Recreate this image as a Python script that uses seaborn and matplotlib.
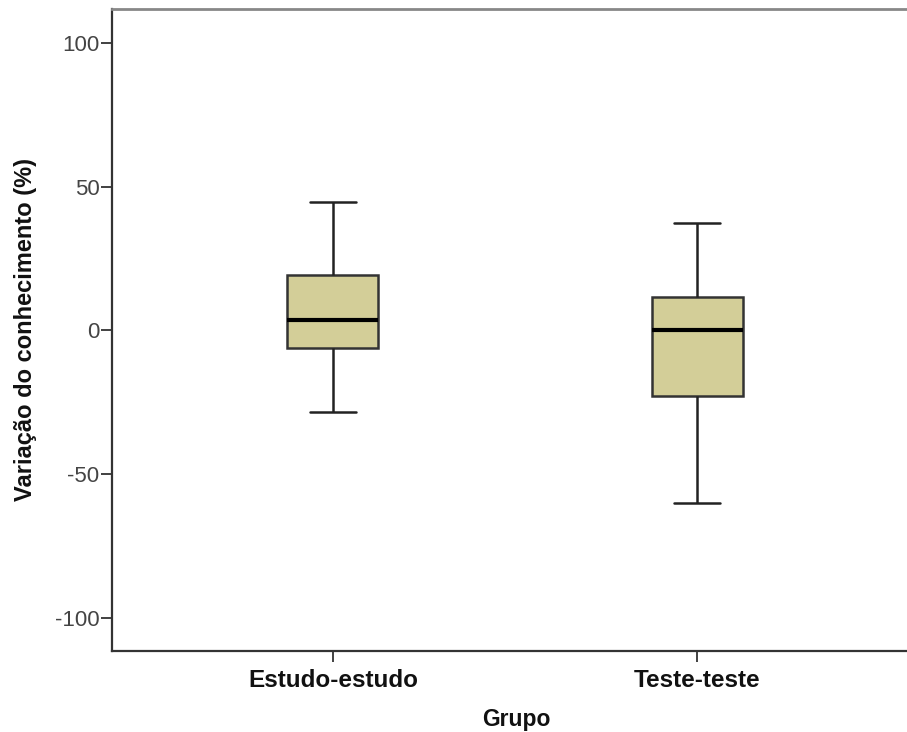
import pandas as pd
import matplotlib.pyplot as plt
import seaborn as sns

# Five-number summaries (lower whisker, Q1, median, Q3, upper whisker)
groups = ["Estudo-estudo", "Teste-teste"]
estudo_vals = [-28.5, -6.2, 3.8, 19.4, 44.8]
teste_vals = [-60.0, -22.9, 0.0, 11.5, 37.5]

df = pd.DataFrame({
    "Grupo": [groups[0]] * len(estudo_vals) + [groups[1]] * len(teste_vals),
    "Variacao": estudo_vals + teste_vals,
})

sns.set_theme(style="white")
plt.rcParams["font.family"] = ["Liberation Sans", "DejaVu Sans"]
plt.rcParams["axes.unicode_minus"] = False

fig = plt.figure(figsize=(9.07, 7.32), dpi=100)
# axes runs a little past the right edge of the picture, like the original export
ax = fig.add_axes([0.1235, 0.111, 0.891, 0.877])

sns.boxplot(data=df, x="Grupo", y="Variacao", order=groups, ax=ax,
            color="#d3ce98", width=0.25, whis=3, linewidth=1.8, saturation=1,
            boxprops=dict(edgecolor="#333333"),
            whiskerprops=dict(color="#222222"),
            capprops=dict(color="#222222"),
            medianprops=dict(color="black", linewidth=3))

ax.set_xlim(-0.607, 1.613)
ax.set_ylim(-111.5, 112)
ax.set_yticks([-100, -50, 0, 50, 100])

ax.set_xlabel("Grupo", fontsize=16.5, fontweight="bold", labelpad=12, color="#111111")
ax.set_ylabel("Variação do conhecimento (%)", fontsize=17, fontweight="bold", labelpad=13, color="#111111")

ax.tick_params(axis="y", left=True, length=8, width=1.3, pad=1, labelsize=16,
               labelcolor="#444444", color="#333333")
ax.tick_params(axis="x", bottom=True, length=8, width=1.3, pad=5, labelsize=17.5,
               labelcolor="#111111", color="#333333")
for lbl in ax.get_xticklabels():
    lbl.set_fontweight("bold")

ax.spines["right"].set_visible(False)
ax.spines["left"].set_color("#333333")
ax.spines["bottom"].set_color("#333333")
ax.spines["left"].set_linewidth(1.6)
ax.spines["bottom"].set_linewidth(1.6)
ax.spines["top"].set_color("#888888")
ax.spines["top"].set_linewidth(2)

fig.savefig("out.png", dpi=100)
